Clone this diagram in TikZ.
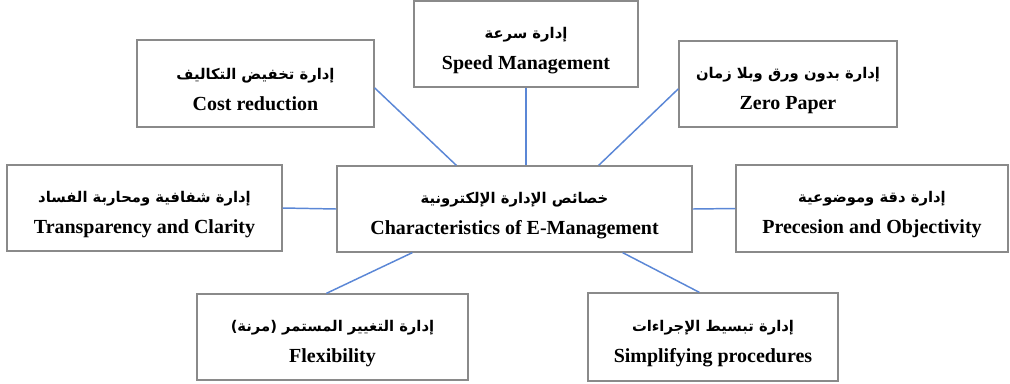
\documentclass[tikz,border=0pt]{standalone}
\usepackage{fontspec}
\setmainfont{Liberation Serif}
\newfontfamily\arabicfont[Script=Arabic]{DejaVu Sans}
\TeXXeTstate=1
\definecolor{boxline}{HTML}{8A8A8A}
\definecolor{linkline}{HTML}{5B87D6}
% arabic title line; the strut pushes both lines a bit down in the box
\newcommand{\artext}[1]{{\arabicfont\fontsize{10.5}{22}\selectfont\rule{0pt}{17pt}\beginR #1\endR}}
\tikzset{
  box/.style={draw=boxline, line width=0.9pt, fill=white, align=center,
              inner sep=0pt, font=\fontsize{14.2}{22}\selectfont\bfseries},
  link/.style={draw=linkline, line width=1.05pt},
}

\begin{document}
\begin{tikzpicture}[x=0.025cm, y=-0.025cm]
    \useasboundingbox (0,0) rectangle (1010,383);
    % hub in the middle
    \node[box, minimum width=8.875cm, minimum height=2.15cm] (hub) at (514.5,209)
      {\artext{خصائص الإدارة الإلكترونية}\\Characteristics of E-Management};
    % top row
    \node[box, minimum width=5.925cm, minimum height=2.175cm] (cost) at (255.5,83.5)
      {\artext{إدارة تخفيض التكاليف}\\Cost reduction};
    \node[box, minimum width=5.6cm, minimum height=2.15cm] (speed) at (526,44)
      {\artext{إدارة سرعة}\\Speed Management};
    \node[box, minimum width=5.45cm, minimum height=2.15cm] (zero) at (788,84)
      {\artext{إدارة بدون ورق وبلا زمان}\\Zero Paper};
    % middle row
    \node[box, minimum width=6.875cm, minimum height=2.15cm] (trans) at (144.5,208)
      {\artext{إدارة شفافية ومحاربة الفساد}\\Transparency and Clarity};
    \node[box, minimum width=6.8cm, minimum height=2.175cm] (prec) at (872,208.5)
      {\artext{إدارة دقة وموضوعية}\\Precesion and Objectivity};
    % bottom row
    \node[box, minimum width=6.775cm, minimum height=2.15cm] (flex) at (332.5,337)
      {\artext{إدارة التغيير المستمر (مرنة)}\\Flexibility};
    \node[box, minimum width=6.25cm, minimum height=2.2cm] (simp) at (713,337)
      {\artext{إدارة تبسيط الإجراءات}\\Simplifying procedures};

    % connectors
    \draw[link] ([yshift=-0.11cm]cost.east) -- ([xshift=3cm]hub.north west);
    \draw[link] (speed.south) -- (speed.south |- hub.north);
    \draw[link] ([yshift=-0.12cm]zero.west) -- ([xshift=-2.35cm]hub.north east);
    \draw[link] (trans.east) -- (hub.west);
    \draw[link] (hub.east) -- (prec.west);
    \draw[link] ([xshift=1.9cm]hub.south west) -- ([xshift=3.25cm]flex.north west);
    \draw[link] ([xshift=-1.75cm]hub.south east) -- ([xshift=2.8cm]simp.north west);
  \end{tikzpicture}
\end{document}
